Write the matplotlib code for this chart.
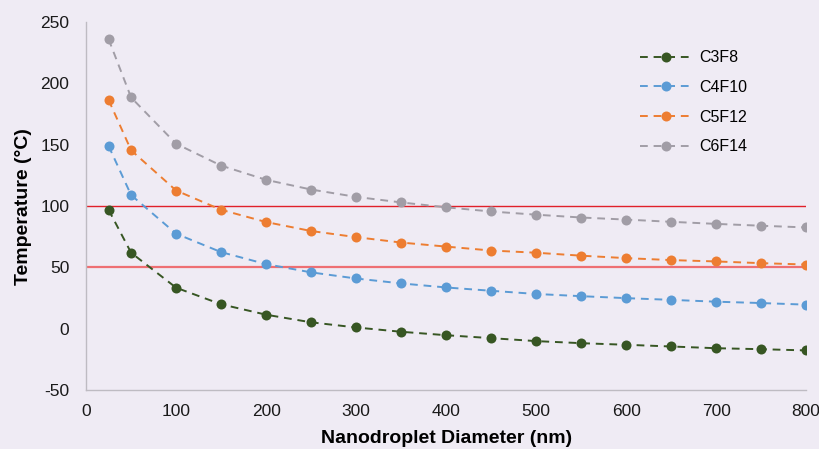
import numpy as np
import matplotlib
matplotlib.use("Agg")
import matplotlib.pyplot as plt

# ── Boiling/vaporisation temperature vs nanodroplet diameter ────────────────
diameter = [25, 50, 100, 150, 200, 250, 300, 350, 400, 450, 500,
            550, 600, 650, 700, 750, 800]

c3f8  = [97, 62, 33.5, 20, 11.5, 5.3, 1.1, -2.4, -5.2, -7.6, -10,
         -11.7, -13, -14.4, -15.8, -16.6, -17.6]
c4f10 = [149, 109, 77.5, 62.5, 52.7, 46, 41, 37, 33.7, 31, 28.4,
         26.6, 25, 23.6, 22.1, 21, 19.7]
c5f12 = [186.5, 145.5, 112.7, 97, 87, 79.7, 74.7, 70.3, 67, 63.8, 62,
         59.6, 57.6, 56, 54.9, 53.5, 52.4]
c6f14 = [236, 188.5, 150.8, 133, 121.4, 113.5, 107.5, 103, 99, 95.6, 93,
         90.7, 89, 87.2, 85.5, 84, 82.6]

series_names  = ["C3F8", "C4F10", "C5F12", "C6F14"]
series_values = [c3f8, c4f10, c5f12, c6f14]
series_colors = ["#375623", "#5B9BD5", "#ED7D31", "#A19DA6"]

x_ticks = np.arange(0, 801, 100)
y_ticks = np.arange(-50, 251, 50)

BG = "#EFEBF4"
SPINE = "#BEBBC2"

plt.rcParams["font.family"] = ["Liberation Sans", "DejaVu Sans"]
plt.rcParams["axes.unicode_minus"] = False

fig = plt.figure(figsize=(8.2, 4.49), dpi=100)
fig.patch.set_facecolor(BG)
ax = fig.add_axes([0.105, 0.131, 0.878, 0.820])
ax.set_facecolor(BG)

# reference temperatures
ax.axhline(100, color="#E0202A", linewidth=1.0, zorder=2)
ax.axhline(50, color="#EE6F73", linewidth=1.6, zorder=2)

for name, vals, col in zip(series_names, series_values, series_colors):
    ax.plot(diameter, vals, color=col, linestyle=(0, (4, 3)), linewidth=1.4,
            marker="o", markersize=7.2, markeredgewidth=0, label=name, zorder=3)

ax.set_xlim(0, 800)
ax.set_ylim(-50, 250)
ax.set_xticks(x_ticks)
ax.set_yticks(y_ticks)
ax.tick_params(length=0, labelsize=12.5, colors="#1a1a1a")
ax.tick_params(axis="x", pad=10)
ax.tick_params(axis="y", pad=12)

for side in ("top", "right"):
    ax.spines[side].set_visible(False)
for side in ("left", "bottom"):
    ax.spines[side].set_color(SPINE)
    ax.spines[side].set_linewidth(1.0)

ax.set_xlabel("Nanodroplet Diameter (nm)", fontsize=14, fontweight="bold", labelpad=8)
ax.set_ylabel("Temperature (°C)", fontsize=14, fontweight="bold", labelpad=6)

ax.legend(loc="upper left", bbox_to_anchor=(634 / 820, 1 - 44 / 449),
          bbox_transform=fig.transFigure, borderaxespad=0, frameon=False,
          fontsize=11.5, handlelength=3.2, labelspacing=0.92, handletextpad=0.5)

plt.savefig("out.png", dpi=100, facecolor=fig.get_facecolor())
